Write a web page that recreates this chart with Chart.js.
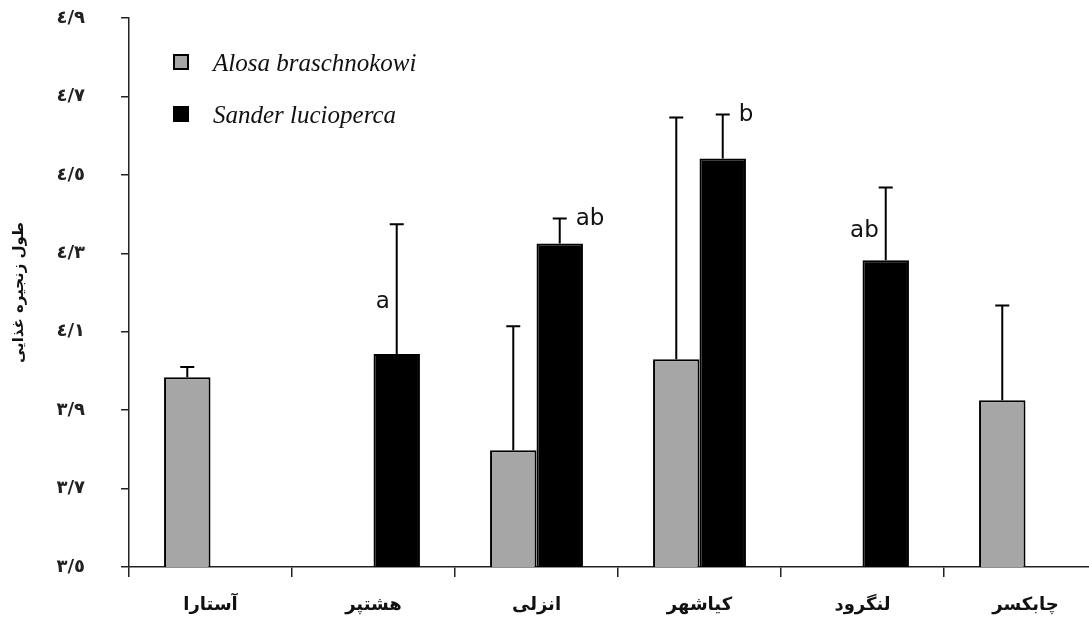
<!DOCTYPE html>
<html>
<head>
<meta charset="utf-8">
<script src="https://cdn.jsdelivr.net/npm/chart.js@4.4.1/dist/chart.umd.min.js"></script>
<style>
  html, body { margin: 0; padding: 0; background: #fff; overflow: hidden; }
  #wrap { position: relative; width: 1110px; height: 637px; }
</style>
</head>
<body>
<div id="wrap"><canvas id="c"></canvas></div>
<script>
// Sampling sites
const categories = ['آستارا', 'هشتپر', 'انزلی', 'کیاشهر', 'لنگرود', 'چابکسر'];

// Mean food chain length and standard error per site
const alosaMean  = [3.984, null, 3.798, 4.030, null, 3.925];
const alosaSE    = [0.026, null, 0.316, 0.616, null, 0.242];
const sanderMean = [null, 4.043, 4.325, 4.542, 4.282, null];
const sanderSE   = [null, 0.331, 0.064, 0.112, 0.186, null];

// Significance groups for Sander lucioperca
const sanderLetters = [null, 'a', 'ab', 'b', 'ab', null];

// Y-axis tick labels (3.5 … 4.9)
const yTickLabels = ['٣/٥', '٣/٧', '٣/٩', '٤/١', '٤/٣', '٤/٥', '٤/٧', '٤/٩'];

const seriesNames = ['Alosa braschnokowi', 'Sander lucioperca'];

// Letters sit either left of the error whisker or right of its cap
const letterSide = ['', 'left', 'right', 'right', 'left', ''];

const errorBars = {
  id: 'errorBars',
  afterDatasetsDraw(chart) {
    const { ctx } = chart;
    const yScale = chart.scales.y;
    chart.data.datasets.forEach((ds, di) => {
      const meta = chart.getDatasetMeta(di);
      meta.data.forEach((bar, i) => {
        const v = ds.data[i];
        const e = ds.errors[i];
        if (v == null || e == null) return;
        const x = bar.x;
        const yTop = yScale.getPixelForValue(v + e);
        const yBar = bar.y;
        ctx.save();
        ctx.strokeStyle = '#000';
        ctx.lineWidth = 2;
        ctx.beginPath();
        ctx.moveTo(x, yBar);
        ctx.lineTo(x, yTop);
        ctx.moveTo(x - 7, yTop);
        ctx.lineTo(x + 7, yTop);
        ctx.stroke();

        const letter = ds.letters ? ds.letters[i] : null;
        if (letter) {
          ctx.fillStyle = '#111';
          ctx.font = '23px "DejaVu Sans", sans-serif';
          ctx.textBaseline = 'middle';
          if (letterSide[i] === 'left') {
            ctx.textAlign = 'right';
            ctx.fillText(letter, x - 7, yBar + (yTop - yBar) * 0.4);
          } else {
            ctx.textAlign = 'left';
            ctx.fillText(letter, x + 16, yTop + 1);
          }
        }
        ctx.restore();
      });
    });
  }
};

const insetLegend = {
  id: 'insetLegend',
  afterDraw(chart) {
    const { ctx } = chart;
    const rows = [62, 114];
    chart.data.datasets.forEach((ds, di) => {
      const cy = rows[di];
      ctx.save();
      ctx.fillStyle = ds.backgroundColor;
      ctx.fillRect(173, cy - 8, 16, 16);
      ctx.strokeStyle = '#000';
      ctx.lineWidth = 2;
      ctx.strokeRect(174, cy - 7, 14, 14);
      ctx.fillStyle = '#111';
      ctx.font = 'italic 25px "Liberation Serif", "Times New Roman", serif';
      ctx.textAlign = 'left';
      ctx.textBaseline = 'middle';
      ctx.fillText(ds.label, 213, cy + 2);
      ctx.restore();
    });
  }
};

new Chart(document.getElementById('c'), {
  type: 'bar',
  data: {
    labels: categories,
    datasets: [
      {
        label: seriesNames[0],
        data: alosaMean,
        errors: alosaSE,
        backgroundColor: '#a6a6a6',
        borderColor: '#000',
        borderWidth: 2,
        borderSkipped: false
      },
      {
        label: seriesNames[1],
        data: sanderMean,
        errors: sanderSE,
        letters: sanderLetters,
        backgroundColor: '#000',
        borderColor: '#000',
        borderWidth: 2,
        borderSkipped: false
      }
    ]
  },
  options: {
    responsive: true,
    maintainAspectRatio: false,
    animation: false,
    categoryPercentage: 0.57,
    barPercentage: 1.0,
    layout: { padding: { top: 18, right: 3, left: 0, bottom: 0 } },
    plugins: {
      legend: { display: false },
      tooltip: { enabled: false }
    },
    scales: {
      x: {
        grid: {
          display: true,
          drawOnChartArea: false,
          drawTicks: true,
          tickLength: 10,
          color: '#222',
          lineWidth: 1.5
        },
        border: { display: true, color: '#222', width: 1.5 },
        ticks: {
          color: '#111',
          padding: 18,
          font: { family: '"DejaVu Sans", sans-serif', size: 18, weight: 'bold' }
        },
        afterFit(scale) { scale.height = 70; }
      },
      y: {
        min: 3.5,
        max: 4.9,
        ticks: {
          stepSize: 0.2,
          color: '#222',
          padding: 36,
          font: { family: '"DejaVu Sans", sans-serif', size: 18, weight: 'bold' },
          callback: (value, index) => yTickLabels[index]
        },
        grid: {
          display: true,
          drawOnChartArea: false,
          drawTicks: true,
          tickLength: 8,
          color: '#222',
          lineWidth: 1.5
        },
        border: { display: true, color: '#222', width: 1.5 },
        title: {
          display: true,
          text: 'طول زنجیره غذایی',
          color: '#111',
          padding: { top: 10, bottom: 0 },
          font: { family: '"DejaVu Sans", sans-serif', size: 15, weight: 'bold' }
        },
        afterFit(scale) {
          scale.width = 129;
          // label padding would otherwise shrink the plot vertically
          scale.paddingTop = 10;
          scale.paddingBottom = 10;
        }
      }
    }
  },
  plugins: [errorBars, insetLegend]
});
</script>
</body>
</html>
